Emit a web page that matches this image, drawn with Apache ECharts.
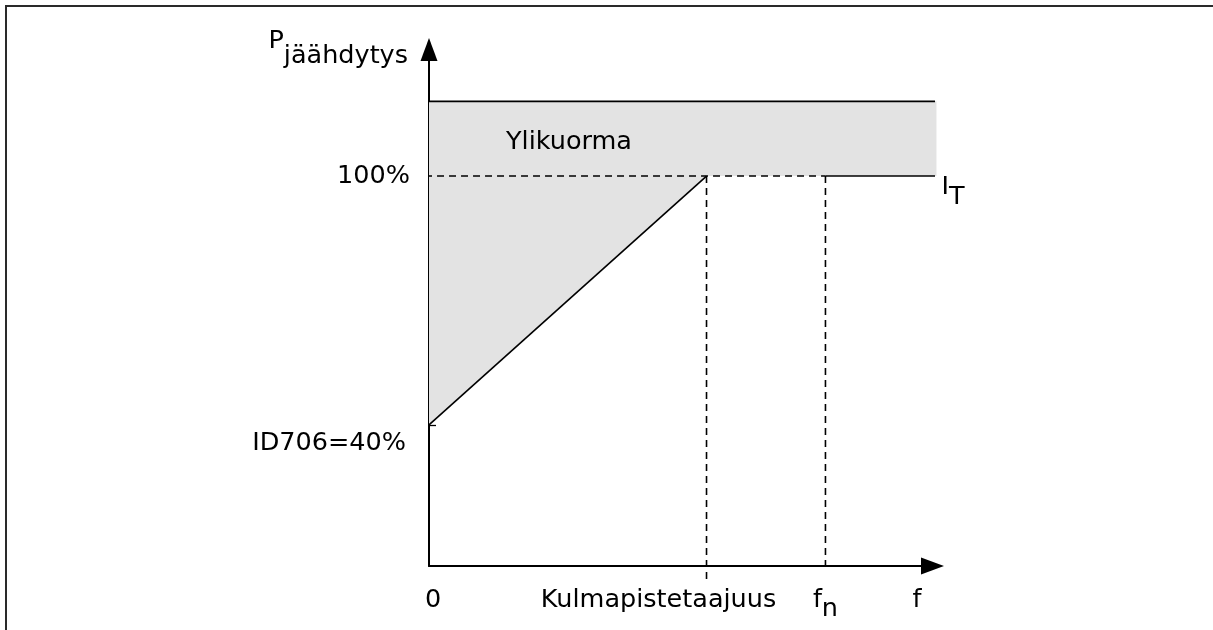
<!DOCTYPE html>
<html>
<head>
<meta charset="utf-8">
<script src="https://cdn.jsdelivr.net/npm/echarts@6/dist/echarts.min.js"></script>
<style>
  html, body { margin: 0; padding: 0; background: #fff; }
  #chart { width: 1213px; height: 630px; }
</style>
</head>
<body>
<div id="chart"></div>
<script>
// Motor cooling power as a function of output frequency (percent of rated power).
const xTickValues = [0, 70, 100, 127];
const xTickLabels = ['0', 'Kulmapistetaajuus', 'fn', 'f'];
const yTickValues = [100, 40];
const yTickLabels = ['100%', 'ID706=40%'];
const yMarkTicks = [40];

const deratingCurve = [[0, 40], [70, 100]];
const ratedLine = [[100, 100], [128, 100]];
const overloadTop = [[0, 118], [128, 118]];
const overloadRegion = [[0, 118], [128, 118], [128, 100], [70, 100], [0, 40]];
const guideRated = [[-1, 100], [100, 100]];
const guideCorner = [[70, 100], [70, 2.6]];
const guideNominal = [[100, 100], [100, 4.8]];

const xRange = [0, 127];
const yRange = [6, 130.5];

const FONT = 'DejaVu Sans';
const FS = 25.5;
const INK = '#000';

const chart = echarts.init(document.getElementById('chart'), null, { renderer: 'canvas' });

function lineSeries(name, data, dashed) {
  return {
    type: 'line',
    name: name,
    data: data,
    symbol: 'none',
    clip: false,
    silent: true,
    z: 3,
    lineStyle: { color: INK, width: 1.6, type: dashed ? [7, 5] : 'solid' }
  };
}

const option = {
  animation: false,
  backgroundColor: '#fff',
  textStyle: { fontFamily: FONT },
  grid: { left: 429, right: 280.5, top: 49.5, bottom: 64, containLabel: false },
  xAxis: {
    type: 'value',
    min: xRange[0],
    max: xRange[1],
    splitLine: { show: false },
    axisTick: { show: false },
    axisLine: {
      onZero: false,
      symbol: ['none', 'triangle'],
      symbolSize: [17, 23],
      lineStyle: { color: INK, width: 2 }
    },
    axisLabel: {
      customValues: xTickValues,
      margin: 21,
      color: INK,
      fontFamily: FONT,
      fontSize: FS,
      formatter: function (v) {
        const i = xTickValues.indexOf(v);
        const t = xTickLabels[i];
        if (i === 0) return '{zero|' + t + '}';
        if (i === 1) return '{corner|' + t + '}';
        if (i === 2) return '{base|' + t.charAt(0) + '}{sub|' + t.slice(1) + '}';
        return '{last|' + t + '}';
      },
      rich: {
        zero: { fontSize: FS, fontFamily: FONT, color: INK, padding: [0, 0, 0, 8] },
        corner: { fontSize: FS, fontFamily: FONT, color: INK, padding: [0, 96, 0, 0] },
        base: { fontSize: FS, fontFamily: FONT, color: INK, padding: [0, 0, 9, 0] },
        sub: { fontSize: FS, fontFamily: FONT, color: INK, padding: [9, 0, 0, 0] },
        last: { fontSize: FS, fontFamily: FONT, color: INK, padding: [0, 31, 0, 0] }
      }
    }
  },
  yAxis: {
    type: 'value',
    min: yRange[0],
    max: yRange[1],
    splitLine: { show: false },
    axisTick: {
      show: true,
      customValues: yMarkTicks,
      inside: true,
      length: 7,
      lineStyle: { color: INK, width: 1.3 }
    },
    axisLine: {
      onZero: false,
      symbol: ['none', 'triangle'],
      symbolSize: [17, 23],
      lineStyle: { color: INK, width: 2 }
    },
    axisLabel: {
      customValues: yTickValues,
      margin: 19,
      color: INK,
      fontFamily: FONT,
      fontSize: FS,
      formatter: function (v) {
        const i = yTickValues.indexOf(v);
        return i === 0 ? '{top|' + yTickLabels[i] + '}' : '{low|' + yTickLabels[i] + '}';
      },
      rich: {
        top: { fontSize: FS, fontFamily: FONT, color: INK },
        low: { fontSize: FS, fontFamily: FONT, color: INK, padding: [36, 4, 0, 0] }
      }
    }
  },
  series: [
    {
      type: 'custom',
      name: 'Ylikuorma',
      silent: true,
      clip: false,
      z: 1,
      data: [[overloadRegion[0][0], overloadRegion[0][1]]],
      renderItem: function (params, api) {
        return {
          type: 'polygon',
          shape: { points: overloadRegion.map(function (p) { return api.coord(p); }) },
          style: { fill: '#e3e3e3', stroke: 'none' }
        };
      }
    },
    lineSeries('overloadTop', overloadTop, false),
    lineSeries('rated', ratedLine, false),
    lineSeries('derating', deratingCurve, false),
    lineSeries('guideRated', guideRated, true),
    lineSeries('guideCorner', guideCorner, true),
    lineSeries('guideNominal', guideNominal, true)
  ]
};

chart.setOption(option);

// Free-standing annotations, anchored to chart coordinates.
const px = function (x, y) { return chart.convertToPixel({ gridIndex: 0 }, [x, y]); };
const axisTop = px(0, yRange[1]);
const bandLeft = px(0, 118);
const ratedEnd = px(ratedLine[1][0], ratedLine[1][1]);

chart.setOption({
  graphic: [
    {
      type: 'rect',
      silent: true,
      z: 20,
      shape: { x: 6, y: 6, width: 1400, height: 800 },
      style: { fill: 'none', stroke: '#2a2a2a', lineWidth: 2 }
    },
    {
      type: 'text',
      silent: true,
      z: 20,
      x: axisTop[0] - 21,
      y: axisTop[1] - 21,
      style: {
        text: '{p|P}{s|jäähdytys}',
        align: 'right',
        verticalAlign: 'top',
        rich: {
          p: { fontSize: FS, fontFamily: FONT, fill: INK, padding: [0, 0, 15, 0] },
          s: { fontSize: FS, fontFamily: FONT, fill: INK, padding: [15, 0, 0, 0] }
        }
      }
    },
    {
      type: 'text',
      silent: true,
      z: 20,
      x: bandLeft[0] + 77,
      y: bandLeft[1] + 41,
      style: {
        text: 'Ylikuorma',
        font: FS + 'px "' + FONT + '"',
        fill: INK,
        align: 'left',
        verticalAlign: 'middle'
      }
    },
    {
      type: 'text',
      silent: true,
      z: 20,
      x: ratedEnd[0] + 5,
      y: ratedEnd[1] - 2,
      style: {
        text: '{i|I}{t|T}',
        align: 'left',
        verticalAlign: 'top',
        rich: {
          i: { fontSize: FS, fontFamily: FONT, fill: INK, padding: [0, 0, 10, 0] },
          t: { fontSize: FS, fontFamily: FONT, fill: INK, padding: [10, 0, 0, 0] }
        }
      }
    }
  ]
});
</script>
</body>
</html>
